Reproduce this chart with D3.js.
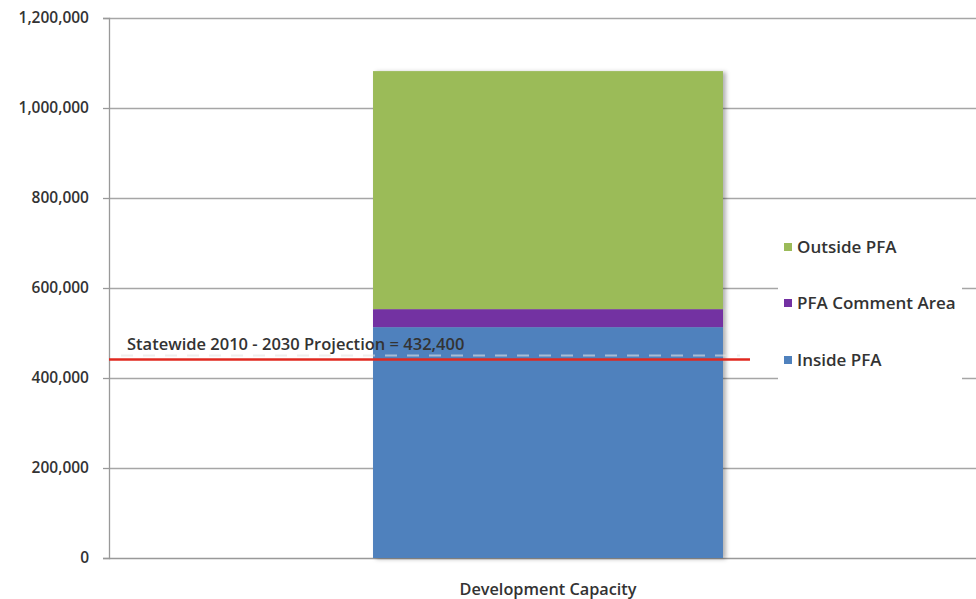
<!DOCTYPE html>
<html lang="en">
<head>
<meta charset="utf-8">
<title>Development Capacity</title>
<script src="https://d3js.org/d3.v7.min.js"></script>
<style>
  body { margin: 0; background: #fff; }
  text { font-family: "Open Sans", Lato, sans-serif; font-weight: 600; fill: #333; }
</style>
</head>
<body>
<script>
var categories = ["Development Capacity"];
var seriesNames = ["Inside PFA", "PFA Comment Area", "Outside PFA"];
var seriesColors = ["#4F81BD", "#7330A2", "#9BBB59"];
var insidePFA = [513000];
var commentArea = [40000];
var outsidePFA = [529000];
var yTicks = [0, 200000, 400000, 600000, 800000, 1000000, 1200000];
var projectionValue = 432400;
var projectionLabel = "Statewide 2010 - 2030 Projection = 432,400";

var width = 976, height = 599;
var plotLeft = 109, plotTop = 18, plotBottom = 558, plotRight = 987;

var svg = d3.select("body").append("svg")
    .attr("width", width)
    .attr("height", height);

var defs = svg.append("defs");
var shadow = defs.append("filter").attr("id", "shadow")
    .attr("x", "-5%").attr("y", "-5%").attr("width", "115%").attr("height", "115%");
shadow.append("feDropShadow")
    .attr("dx", 3).attr("dy", 1).attr("stdDeviation", 2)
    .attr("flood-color", "#000").attr("flood-opacity", 0.3);

var y = d3.scaleLinear().domain([0, 1200000]).range([plotBottom, plotTop]);
var x = d3.scaleBand().domain(categories).range([plotLeft, plotRight]).padding(0.43);

// gridlines
svg.append("g").selectAll("line")
    .data(yTicks)
    .enter().append("line")
    .attr("x1", plotLeft).attr("x2", width)
    .attr("y1", function(d) { return Math.round(y(d)) + 0.5; })
    .attr("y2", function(d) { return Math.round(y(d)) + 0.5; })
    .attr("stroke", function(d) { return d === 0 ? "#999" : "#a6a6a6"; })
    .attr("stroke-width", 1.3);

// y axis
var yAxis = d3.axisLeft(y)
    .tickValues(yTicks)
    .tickSize(6)
    .tickPadding(14)
    .tickFormat(d3.format(","));
var ax = svg.append("g")
    .attr("transform", "translate(" + plotLeft + ",0)")
    .call(yAxis);
ax.select(".domain").attr("stroke", "#999").attr("stroke-width", 1.3);
ax.selectAll(".tick line").attr("stroke", "#999").attr("stroke-width", 1.3);
ax.selectAll(".tick text")
    .attr("font-size", 15.5)
    .style("font-family", "'Open Sans', sans-serif")
    .attr("fill", "#333");

// stacked bar
var rows = categories.map(function(c, i) {
  return { cat: c, inside: insidePFA[i], comment: commentArea[i], outside: outsidePFA[i] };
});
var stack = d3.stack().keys(["inside", "comment", "outside"]);
var layers = stack(rows);

var barG = svg.append("g").attr("filter", "url(#shadow)");
layers.forEach(function(layer, li) {
  barG.selectAll(null)
      .data(layer)
      .enter().append("rect")
      .attr("x", function(d) { return x(d.data.cat); })
      .attr("width", x.bandwidth())
      .attr("y", function(d) { return y(d[1]); })
      .attr("height", function(d) { return y(d[0]) - y(d[1]); })
      .attr("fill", seriesColors[li]);
});

// projection line (drawn a touch above the value, as in the source)
var lineEnd = x(categories[0]) + x.bandwidth() + 27;
var py = y(projectionValue) - 4;
svg.append("line")
    .attr("x1", plotLeft + 12).attr("x2", lineEnd - 10)
    .attr("y1", py - 4).attr("y2", py - 4)
    .attr("stroke", "#e4e4e4").attr("stroke-width", 2)
    .attr("stroke-opacity", 0.6)
    .attr("stroke-dasharray", "12,10");
svg.append("line")
    .attr("x1", plotLeft).attr("x2", lineEnd)
    .attr("y1", py).attr("y2", py)
    .attr("stroke", "#e0281f").attr("stroke-width", 2.5);
svg.append("text")
    .attr("x", 127).attr("y", py - 9)
    .attr("font-size", 16.5)
    .attr("fill", "#2a2a2a")
    .text(projectionLabel);

// x label
svg.append("text")
    .attr("x", x(categories[0]) + x.bandwidth() / 2)
    .attr("y", 595)
    .attr("text-anchor", "middle")
    .attr("font-size", 16.3)
    .text(categories[0]);

// legend
var legend = svg.append("g");
legend.append("rect")
    .attr("x", 778).attr("y", 222).attr("width", 184).attr("height", 175)
    .attr("fill", "#fff");
var legendOrder = [2, 1, 0];
var legendY = [247, 303, 360];
legendOrder.forEach(function(si, i) {
  legend.append("rect")
      .attr("x", 784).attr("y", legendY[i] - 4)
      .attr("width", 8).attr("height", 8)
      .attr("fill", seriesColors[si]);
  legend.append("text")
      .attr("x", 797).attr("y", legendY[i] + 6)
      .attr("font-size", 17)
      .attr("fill", "#2a2a2a")
      .text(seriesNames[si]);
});
</script>
</body>
</html>
